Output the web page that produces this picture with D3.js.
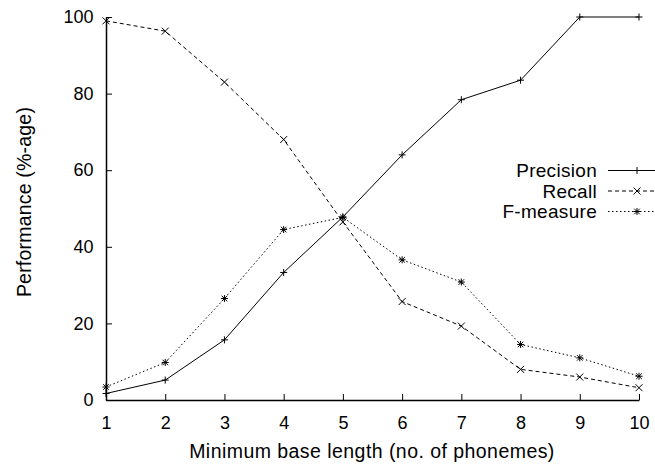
<!DOCTYPE html>
<html>
<head>
<meta charset="utf-8">
<script src="https://cdn.jsdelivr.net/npm/d3@7"></script>
<style>
  body { margin: 0; background: #fff; }
  text { font-family: "Liberation Sans", Arial, sans-serif; fill: #000; }
</style>
</head>
<body>
<div id="chart"></div>
<script>
const baseLengths = [1, 2, 3, 4, 5, 6, 7, 8, 9, 10];
const precision = [1.7, 5.2, 15.7, 33.3, 47.8, 64, 78.4, 83.5, 100, 100];
const recall = [99, 96.3, 83, 68, 46.5, 25.7, 19.3, 8, 6, 3.2];
const fMeasure = [3.4, 9.8, 26.5, 44.5, 47.7, 36.6, 30.8, 14.5, 11, 6.2];
const yTicks = [0, 20, 40, 60, 80, 100];
const seriesNames = ["Precision", "Recall", "F-measure"];

const W = 655, H = 466;
const margin = {top: 17, right: 16, bottom: 66, left: 106};
const width = W - margin.left - margin.right;
const height = H - margin.top - margin.bottom;

const svg = d3.select("#chart").append("svg")
  .attr("width", W).attr("height", H);
const g = svg.append("g")
  .attr("transform", "translate(" + margin.left + "," + margin.top + ")");

const x = d3.scaleLinear().domain([1, 10]).range([0, width]);
const y = d3.scaleLinear().domain([0, 100]).range([height, 0]);

// axes (ticks inward, like gnuplot)
const xAxis = g.append("g")
  .attr("transform", "translate(0," + height + ")")
  .call(d3.axisBottom(x).tickValues(baseLengths).tickFormat(d3.format("d")).tickSizeInner(-6).tickSizeOuter(0).tickPadding(16));
const yAxis = g.append("g")
  .call(d3.axisLeft(y).tickValues(yTicks).tickSizeInner(-6).tickSizeOuter(0).tickPadding(12.5));
[xAxis, yAxis].forEach(a => {
  a.selectAll("text").style("font-size", "18px").attr("font-family", null);
  a.select(".domain").attr("stroke", "#000").attr("stroke-width", 1.5);
  a.selectAll(".tick line").attr("stroke", "#000").attr("stroke-width", 1);
});
xAxis.selectAll("text").attr("dy", "0.71em");

// axis labels
svg.append("text")
  .attr("x", 372).attr("y", 458)
  .attr("text-anchor", "middle").style("font-size", "19.5px").style("letter-spacing", "0.45px")
  .text("Minimum base length (no. of phonemes)");
svg.append("text")
  .attr("transform", "translate(30.5,202) rotate(-90)")
  .attr("text-anchor", "middle").style("font-size", "19.5px").style("letter-spacing", "0.2px")
  .text("Performance (%-age)");

// marker shapes
const markPlus = (sel, s) => sel.append("path").attr("d", `M${-s},0H${s}M0,${-s}V${s}`);
const markCross = (sel, s) => sel.append("path").attr("d", `M${-s},${-s}L${s},${s}M${-s},${s}L${s},${-s}`);
const markStar = (sel, s) => { markPlus(sel, s); markCross(sel, s * 0.8); };

const series = [
  {name: seriesNames[0], values: precision, dash: null, mark: markPlus},
  {name: seriesNames[1], values: recall, dash: "4,3", mark: markCross},
  {name: seriesNames[2], values: fMeasure, dash: "1.5,2.5", mark: markStar}
];

const line = d3.line().x((d, i) => x(baseLengths[i])).y(d => y(d));

series.forEach(s => {
  g.append("path")
    .datum(s.values)
    .attr("fill", "none")
    .attr("stroke", "#000")
    .attr("stroke-width", 1)
    .attr("stroke-dasharray", s.dash)
    .attr("d", line);
  s.values.forEach((v, i) => {
    const m = g.append("g")
      .attr("transform", "translate(" + x(baseLengths[i]) + "," + y(v) + ")")
      .attr("stroke", "#000").attr("stroke-width", 1);
    s.mark(m, 3.5);
  });
});

// legend
const legend = svg.append("g");
series.forEach((s, i) => {
  const ly = 170.5 + i * 20.5;
  legend.append("text")
    .attr("x", 597).attr("y", ly).attr("dy", "0.35em")
    .attr("text-anchor", "end").style("font-size", "19px").style("letter-spacing", "0.3px")
    .text(s.name);
  legend.append("line")
    .attr("x1", 608).attr("x2", 655).attr("y1", ly).attr("y2", ly)
    .attr("stroke", "#000").attr("stroke-width", 1)
    .attr("stroke-dasharray", s.dash);
  const m = legend.append("g")
    .attr("transform", "translate(637," + ly + ")")
    .attr("stroke", "#000").attr("stroke-width", 1);
  s.mark(m, 3.5);
});
</script>
</body>
</html>
